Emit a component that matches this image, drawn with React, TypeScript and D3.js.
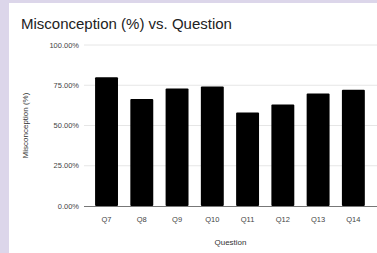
import { useEffect, useRef } from 'react';
import * as d3 from 'd3';

const questions = ['Q7', 'Q8', 'Q9', 'Q10', 'Q11', 'Q12', 'Q13', 'Q14'];
const misconception = [80.0, 66.5, 73.0, 74.3, 58.0, 63.0, 69.8, 72.2];
const yTicks = [0, 25, 50, 75, 100];

const App = () => {
  const chartRef = useRef<SVGSVGElement | null>(null);

  useEffect(() => {
    if (!chartRef.current) return;
    d3.select(chartRef.current).selectAll('*').remove();

    const width = 377;
    const height = 253;
    const svg = d3.select(chartRef.current);

    // background + white card
    svg.append('rect').attr('width', width).attr('height', height).attr('fill', '#dcd6ea');
    svg.append('rect').attr('x', 9).attr('y', 3).attr('width', width - 9).attr('height', height - 3).attr('fill', '#ffffff');

    const plotLeft = 84;
    const plotRight = 377;

    const xScale = d3.scaleBand()
      .domain(questions)
      .range([88.9, 371])
      .paddingInner(0.35)
      .paddingOuter(0.175);

    const yScale = d3.scaleLinear()
      .domain([0, 100])
      .range([206, 45]);

    // gridlines
    svg.append('g')
      .selectAll('line')
      .data(yTicks.filter(d => d > 0))
      .join('line')
      .attr('x1', plotLeft)
      .attr('x2', plotRight)
      .attr('y1', d => yScale(d))
      .attr('y2', d => yScale(d))
      .attr('stroke', '#e6e6e6')
      .attr('stroke-width', 1);

    // y tick labels
    svg.append('g')
      .selectAll('text')
      .data(yTicks)
      .join('text')
      .attr('x', 79)
      .attr('y', d => yScale(d))
      .attr('dy', '0.35em')
      .attr('text-anchor', 'end')
      .attr('font-family', 'Arial, "Liberation Sans", sans-serif')
      .attr('font-size', 7.5)
      .attr('fill', '#444')
      .text(d => d.toFixed(2) + '%');

    // bars
    svg.append('g')
      .selectAll('rect')
      .data(misconception)
      .join('rect')
      .attr('x', (_, i) => xScale(questions[i]) as number)
      .attr('y', d => yScale(d))
      .attr('width', xScale.bandwidth())
      .attr('height', d => yScale(0) - yScale(d))
      .attr('rx', 1)
      .attr('fill', '#000000');

    // baseline
    svg.append('line')
      .attr('x1', plotLeft)
      .attr('x2', plotRight)
      .attr('y1', yScale(0) + 0.5)
      .attr('y2', yScale(0) + 0.5)
      .attr('stroke', '#777')
      .attr('stroke-width', 1);

    // x tick labels
    svg.append('g')
      .selectAll('text')
      .data(questions)
      .join('text')
      .attr('x', d => (xScale(d) as number) + xScale.bandwidth() / 2)
      .attr('y', 219)
      .attr('dy', '0.35em')
      .attr('text-anchor', 'middle')
      .attr('font-family', 'Arial, "Liberation Sans", sans-serif')
      .attr('font-size', 7.5)
      .attr('fill', '#444')
      .text(d => d);

    // axis titles
    svg.append('text')
      .attr('x', (plotLeft + plotRight) / 2)
      .attr('y', 242)
      .attr('dy', '0.35em')
      .attr('text-anchor', 'middle')
      .attr('font-family', 'Arial, "Liberation Sans", sans-serif')
      .attr('font-size', 8)
      .attr('fill', '#333')
      .text('Question');

    svg.append('text')
      .attr('transform', `translate(25, ${(yScale(0) + yScale(100)) / 2}) rotate(-90)`)
      .attr('dy', '0.35em')
      .attr('text-anchor', 'middle')
      .attr('font-family', 'Arial, "Liberation Sans", sans-serif')
      .attr('font-size', 8)
      .attr('fill', '#333')
      .text('Misconception (%)');

    // title
    svg.append('text')
      .attr('x', 21)
      .attr('y', 29)
      .attr('font-family', 'Arial, "Liberation Sans", sans-serif')
      .attr('font-size', 15)
      .attr('fill', '#222')
      .text('Misconception (%) vs. Question');
  }, []);

  return (
    <div style={{ position: 'fixed', left: 0, top: 0 }}>
      <svg ref={chartRef} width={377} height={253} style={{ display: 'block' }}></svg>
    </div>
  );
};

export default App;
